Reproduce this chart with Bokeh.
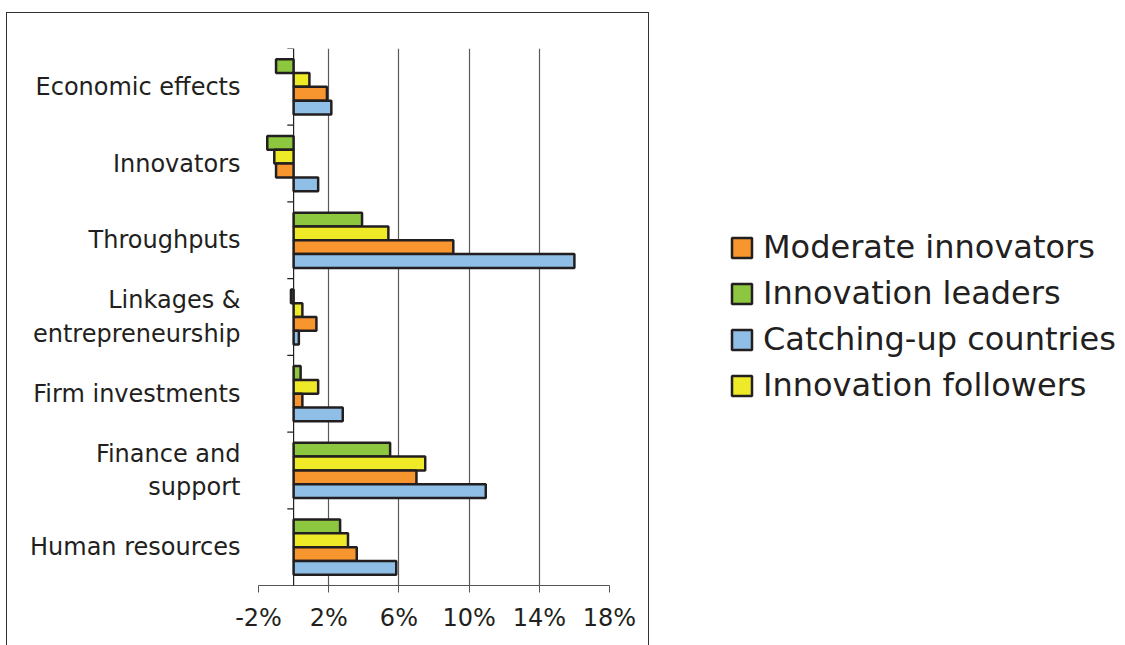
from bokeh.plotting import figure
from bokeh.models import FixedTicker, Span, Legend, LegendItem, ColumnDataSource, FactorRange, Range1d
from bokeh.transform import dodge
from bokeh.layouts import row
from bokeh.embed import file_html
from bokeh.resources import INLINE

categories = ["Economic effects", "Innovators", "Throughputs",
              "Linkages &\nentrepreneurship", "Firm investments",
              "Finance and\nsupport", "Human resources"]
innovation_leaders = [-1.0, -1.5, 3.9, -0.15, 0.4, 5.5, 2.65]
innovation_followers = [0.9, -1.1, 5.4, 0.5, 1.4, 7.5, 3.1]
moderate_innovators = [1.9, -1.0, 9.1, 1.3, 0.5, 7.0, 3.6]
catching_up = [2.15, 1.4, 16.0, 0.3, 2.8, 10.95, 5.85]
x_ticks = [-2, 2, 6, 10, 14, 18]
x_tick_labels = {-2: "-2%", 2: "2%", 6: "6%", 10: "10%", 14: "14%", 18: "18%"}

series = [
    ("Innovation leaders", innovation_leaders, "#8dc63f", 0.27),
    ("Innovation followers", innovation_followers, "#eeea28", 0.09),
    ("Moderate innovators", moderate_innovators, "#f7962e", -0.09),
    ("Catching-up countries", catching_up, "#8fbee6", -0.27),
]
legend_order = ["Moderate innovators", "Innovation leaders", "Catching-up countries", "Innovation followers"]

TEXT = "#231f20"
FONT = "DejaVu Sans"

src = ColumnDataSource(dict(cat=categories, **{s[0]: s[1] for s in series}))

p = figure(width=643, height=633, output_backend="svg", toolbar_location=None,
           y_range=FactorRange(factors=categories[::-1], range_padding=0),
           x_range=Range1d(-2, 18),
           min_border_left=251, min_border_right=41, min_border_top=35, min_border_bottom=61)
p.styles = {"border": "1px solid #333333", "border-bottom": "none"}
p.margin = (12, 0, 0, 6)
p.outline_line_color = None
p.background_fill_color = "white"

for name, vals, color, off in series:
    p.hbar(y=dodge("cat", off, range=p.y_range), left=0, right=name, height=0.18,
           source=src, fill_color=color, line_color=TEXT, line_width=2.5)

# zero axis (category axis) with ticks at category boundaries
p.add_layout(Span(location=0, dimension="height", line_color=TEXT, line_width=1.2))
bounds = list(range(len(categories) + 1))
p.segment(x0=[-0.36] * len(bounds), x1=[0] * len(bounds), y0=bounds, y1=bounds,
          line_color=TEXT, line_width=1.2)

p.xaxis.ticker = FixedTicker(ticks=x_ticks)
p.xaxis.major_label_overrides = x_tick_labels
p.xaxis.minor_tick_line_color = None
p.xaxis.major_tick_in = 0
p.xaxis.major_tick_out = 7
p.xaxis.axis_line_color = "#555555"
p.xaxis.major_tick_line_color = "#555555"
p.xaxis.major_label_text_font = FONT
p.xaxis.major_label_text_font_size = "24px"
p.xaxis.major_label_text_color = TEXT
p.xaxis.major_label_standoff = 11

p.xgrid.ticker = FixedTicker(ticks=x_ticks)
p.xgrid.grid_line_color = "#5a5a5a"
p.xgrid.grid_line_width = 1.2
p.ygrid.grid_line_color = None

p.yaxis.axis_line_color = None
p.yaxis.major_tick_in = 0
p.yaxis.major_tick_out = 0
p.yaxis.minor_tick_line_color = None
p.yaxis.major_label_text_font = FONT
p.yaxis.major_label_text_font_size = "24px"
p.yaxis.major_label_text_color = TEXT
p.yaxis.major_label_standoff = 18

# legend panel
p2 = figure(width=470, height=645, output_backend="svg", toolbar_location=None,
            y_range=FactorRange(factors=categories[::-1]), min_border=0)
p2.axis.visible = False
p2.grid.visible = False
p2.outline_line_color = None
renderers = {}
for name, vals, color, off in series:
    renderers[name] = p2.hbar(y="cat", left=0, right=name, height=0.18, source=src,
                              fill_color=color, line_color=TEXT, line_width=2.5,
                              visible=False)
legend = Legend(items=[LegendItem(label=n, renderers=[renderers[n]]) for n in legend_order],
                location=(80, 180), border_line_color=None, background_fill_alpha=0,
                inactive_fill_alpha=0,
                padding=0, margin=0, spacing=8, glyph_width=25, glyph_height=25,
                label_text_font=FONT, label_text_font_size="32px", label_text_color=TEXT,
                label_standoff=9)
p2.add_layout(legend)

layout = row(p, p2)
open("out.html", "w").write(file_html(layout, INLINE))
